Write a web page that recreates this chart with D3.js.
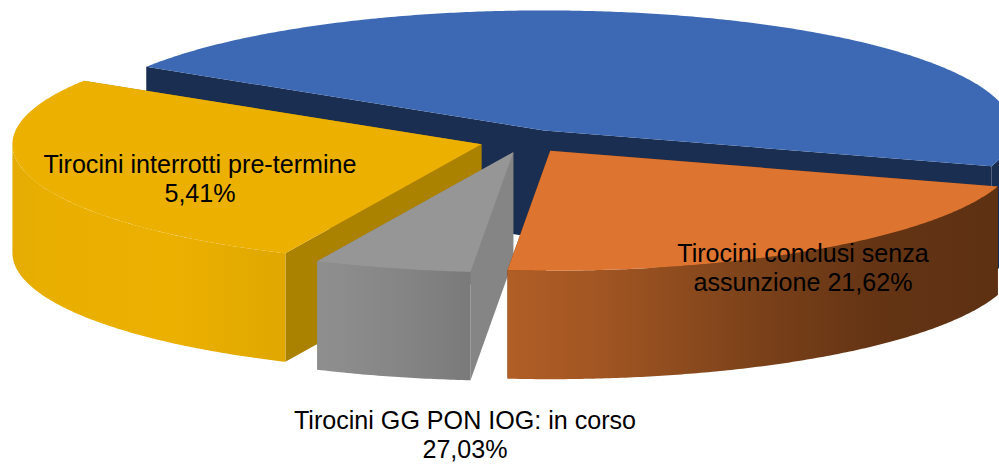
<!DOCTYPE html>
<html>
<head>
<meta charset="utf-8">
<script src="https://cdn.jsdelivr.net/npm/d3@7"></script>
<style>
html,body{margin:0;padding:0;background:#fff;overflow:hidden}
svg{display:block}
text{font-family:"Liberation Sans",Arial,sans-serif;fill:#000}
</style>
</head>
<body>
<svg id="chart" width="999" height="466"></svg>
<script>
const sliceNames = ["Tirocini avviati", "Tirocini conclusi senza assunzione", "Tirocini GG PON IOG: in corso", "Tirocini interrotti pre-termine"];
const sliceValues = [45.95, 21.62, 5.41, 27.03];
// Labels exactly as printed in the reference.
const labelLines = [
  [],
  ["Tirocini conclusi senza", "assunzione 21,62%"],
  ["Tirocini GG PON IOG: in corso", "27,03%"],
  ["Tirocini interrotti pre-termine", "5,41%"]
];
const labelCentres = [null, [803, 262], [465, 429], [200, 173]];
const topColours = ["#3d69b4", "#dd742f", "#969696", "#ebb000"];
const wallColours = ["#1a2e52", "#5e3113", "#858585", "#ab8100"];
const sideStops = [
  [["0", "#1a2e52"], ["1", "#1a2e52"]],
  [["0", "#b15e26"], ["0.2", "#a05522"], ["0.5", "#7c421a"], ["0.75", "#643414"], ["1", "#5e3113"]],
  [["0", "#8f8f8f"], ["0.5", "#868686"], ["1", "#7a7a7a"]],
  [["0", "#e4ac04"], ["0.12", "#e9af00"], ["0.6", "#ebb000"], ["1", "#dfa700"]]
];
const drawOrder = [0, 3, 2, 1];

const W = 999, H = 466;
const cx = 525, cy = 141, rx = 469, ry = 120, depth = 108.5, explode = 0.097;
const startDeg = 302;

const svg = d3.select("#chart");
const defs = svg.append("defs");
const x = d3.scaleLinear().domain([-1, 1]).range([cx - rx, cx + rx]);
const y = d3.scaleLinear().domain([-1, 1]).range([cy - ry, cy + ry]);
const line = d3.line();
const rad = d => d * Math.PI / 180;

const pie = d3.pie().sort(null).value(d => d)
  .startAngle(rad(startDeg)).endAngle(rad(startDeg + 360));
const arcs = pie(sliceValues);

function project(a, r, off, drop) {
  return [x(r * Math.sin(a) + off[0]), y(-r * Math.cos(a) + off[1]) + drop];
}
function arcPoints(a0, a1, off, drop) {
  const n = Math.max(2, Math.ceil((a1 - a0) / rad(0.5)));
  return d3.range(n + 1).map(i => project(a0 + (a1 - a0) * i / n, 1, off, drop));
}

sideStops.forEach((stops, i) => {
  const g = defs.append("linearGradient").attr("id", "side" + i)
    .attr("x1", 0).attr("x2", 1).attr("y1", 0).attr("y2", 0);
  stops.forEach(s => g.append("stop").attr("offset", s[0]).attr("stop-color", s[1]));
});

drawOrder.forEach(i => {
  const d = arcs[i];
  const mid = (d.startAngle + d.endAngle) / 2;
  const off = [explode * Math.sin(mid), -explode * Math.cos(mid)];
  const g = svg.append("g").attr("class", "slice");
  const apex = project(0, 0, off, 0);
  const apexLow = project(0, 0, off, depth);

  // cut walls
  [d.startAngle, d.endAngle].forEach(a => {
    const tip = project(a, 1, off, 0), tipLow = project(a, 1, off, depth);
    g.append("path").attr("d", line([apex, tip, tipLow, apexLow]) + "Z").attr("fill", wallColours[i]);
  });

  // outer rim: every front-facing stretch of the slice (90 to 270 degrees, modulo a turn)
  [0, 2 * Math.PI].forEach(shift => {
    const a0 = Math.max(d.startAngle, rad(90) + shift);
    const a1 = Math.min(d.endAngle, rad(270) + shift);
    if (a1 <= a0) return;
    const up = arcPoints(a0, a1, off, 0);
    const low = arcPoints(a0, a1, off, depth).reverse();
    g.append("path").attr("d", line(up.concat(low)) + "Z").attr("fill", `url(#side${i})`);
  });

  // top face
  g.append("path")
    .attr("d", line([apex].concat(arcPoints(d.startAngle, d.endAngle, off, 0))) + "Z")
    .attr("fill", topColours[i]);
});

labelLines.forEach((lines, i) => {
  if (!lines.length) return;
  const t = svg.append("text").attr("text-anchor", "middle").attr("font-size", 25.1)
    .attr("x", labelCentres[i][0]).attr("y", labelCentres[i][1]);
  lines.forEach((s, k) => t.append("tspan")
    .attr("x", labelCentres[i][0]).attr("dy", k ? 29 : 0).text(s));
});
</script>
</body>
</html>
